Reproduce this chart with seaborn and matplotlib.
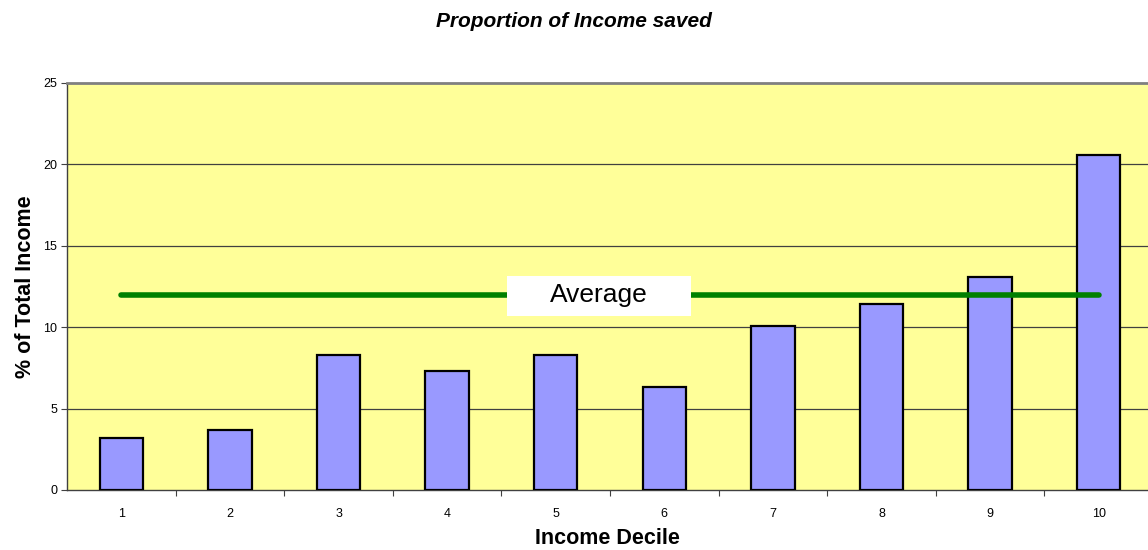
import matplotlib
matplotlib.use("Agg")
import matplotlib.pyplot as plt
import seaborn as sns
import pandas as pd
from matplotlib.patches import Rectangle
from matplotlib.ticker import FixedLocator

deciles = ["1", "2", "3", "4", "5", "6", "7", "8", "9", "10"]
saved_pct = [3.2, 3.7, 8.3, 7.3, 8.3, 6.3, 10.1, 11.4, 13.1, 20.6]
average_pct = 12.0
y_ticks = [0, 5, 10, 15, 20, 25]

sns.set_theme(style="white")
plt.rcParams["font.family"] = ["Liberation Sans", "DejaVu Sans"]
plt.rcParams["text.color"] = "black"
plt.rcParams["axes.labelcolor"] = "black"
plt.rcParams["xtick.color"] = "black"
plt.rcParams["ytick.color"] = "black"

df = pd.DataFrame({"Decile": deciles, "Saved": saved_pct})

fig = plt.figure(figsize=(11.48, 5.5), dpi=100)
ax = fig.add_axes([0.0584, 0.1091, 0.9416, 0.7400])
ax.set_facecolor("#FFFF99")

sns.barplot(data=df, x="Decile", y="Saved", order=deciles, color="#9999FF",
            saturation=1, width=0.4, edgecolor="black", linewidth=1.6, ax=ax,
            zorder=3)

# horizontal gridlines
for v in y_ticks[1:-1]:
    ax.axhline(v, color="#404040", lw=0.9, zorder=1)

# average line with its label on a white panel
ax.hlines(average_pct, 0, len(deciles) - 1, color="#008000", lw=4,
          capstyle="round", zorder=4)
ax.add_patch(Rectangle((3.55, 10.69), 1.70, 2.45, facecolor="white",
                       edgecolor="none", zorder=5))
ax.text(4.4, 11.95, "Average", fontsize=19, ha="center", va="center",
        zorder=6)

ax.set_xlim(-0.5, 9.454)
ax.set_ylim(0, 25)
ax.set_yticks(y_ticks)
ax.set_yticklabels([str(t) for t in y_ticks], fontsize=9)
ax.set_xticks(range(len(deciles)))
ax.set_xticklabels(deciles, fontsize=9)
ax.xaxis.set_minor_locator(FixedLocator([i + 0.5 for i in range(len(deciles))]))
ax.tick_params(axis="x", which="major", length=0, pad=13)
ax.tick_params(axis="x", which="minor", length=4, width=0.8, color="#404040",
               direction="out", bottom=True)
ax.tick_params(axis="y", length=4, width=0.8, color="#404040",
               direction="out", left=True, pad=3)

for side in ["left", "bottom"]:
    ax.spines[side].set_color("#404040")
    ax.spines[side].set_linewidth(1.0)
ax.spines["top"].set_color("#808080")
ax.spines["top"].set_linewidth(2)
ax.spines["right"].set_visible(False)

ax.set_xlabel("Income Decile", fontsize=15.5, fontweight="bold", labelpad=6)
ax.set_ylabel("% of Total Income", fontsize=15.5, fontweight="bold", labelpad=5)
fig.suptitle("Proportion of Income saved", fontsize=15, fontweight="bold",
             fontstyle="italic", y=0.978)

fig.savefig("out.png", dpi=100)
